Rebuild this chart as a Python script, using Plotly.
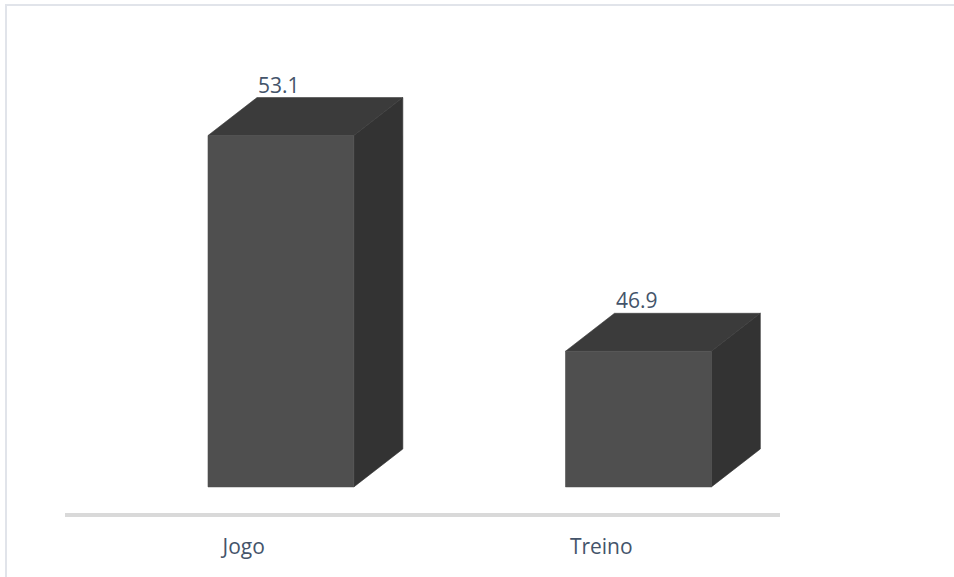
import plotly.graph_objects as go

categories = ["Jogo", "Treino"]
values = [53.1, 46.9]
value_labels = ["53.1", "46.9"]
base_value = 43.0

# styling / geometry (axis units)
FRONT_L, FRONT_R = -0.10, 0.308
DEPTH_X, DEPTH_Y = 0.137, 1.09
C_FRONT, C_TOP, C_SIDE = "#4f4f4f", "#3b3b3b", "#333333"
TXT = "#44546A"

fig = go.Figure()
for i, (cat, v) in enumerate(zip(categories, values)):
    x0, x1 = i + FRONT_L, i + FRONT_R
    b = base_value
    # side
    fig.add_trace(go.Scatter(
        x=[x1, x1 + DEPTH_X, x1 + DEPTH_X, x1, x1],
        y=[b, b + DEPTH_Y, v + DEPTH_Y, v, b],
        fill="toself", fillcolor=C_SIDE, mode="lines",
        line=dict(width=0.6, color=C_SIDE),
        hoverinfo="skip", showlegend=False))
    # top
    fig.add_trace(go.Scatter(
        x=[x0, x1, x1 + DEPTH_X, x0 + DEPTH_X, x0],
        y=[v, v, v + DEPTH_Y, v + DEPTH_Y, v],
        fill="toself", fillcolor=C_TOP, mode="lines",
        line=dict(width=0.6, color=C_TOP),
        hoverinfo="skip", showlegend=False))
    # front
    fig.add_trace(go.Scatter(
        x=[x0, x1, x1, x0, x0],
        y=[b, b, v, v, b],
        fill="toself", fillcolor=C_FRONT, mode="lines",
        line=dict(width=0.6, color=C_FRONT),
        name=cat, showlegend=False))
    fig.add_annotation(x=(x0 + x1) / 2 - 0.005, y=v + DEPTH_Y, text=value_labels[i],
                       showarrow=False, yanchor="bottom", yshift=-3,
                       font=dict(size=21, color=TXT, family="Open Sans"))

fig.update_layout(
    width=954, height=577,
    margin=dict(l=65, r=174, t=20, b=64),
    paper_bgcolor="white", plot_bgcolor="white",
    xaxis=dict(range=[-0.5, 1.5], tickvals=list(range(len(categories))),
               ticktext=categories, showgrid=False, zeroline=False,
               showline=True, linecolor="#D9D9D9", linewidth=4,
               ticks="", ticklabelstandoff=12,
               tickfont=dict(size=21, color=TXT, family="Open Sans")),
    yaxis=dict(range=[42.25, 56.42], visible=False, showgrid=False, zeroline=False),
    shapes=[dict(type="rect", xref="paper", yref="paper", x0=-59/715, x1=1.5,
                 y0=-1, y1=1 + 15/493, line=dict(color="#E1E4EA", width=2),
                 fillcolor="rgba(0,0,0,0)", layer="below")],
)

fig.write_html("out.html")
